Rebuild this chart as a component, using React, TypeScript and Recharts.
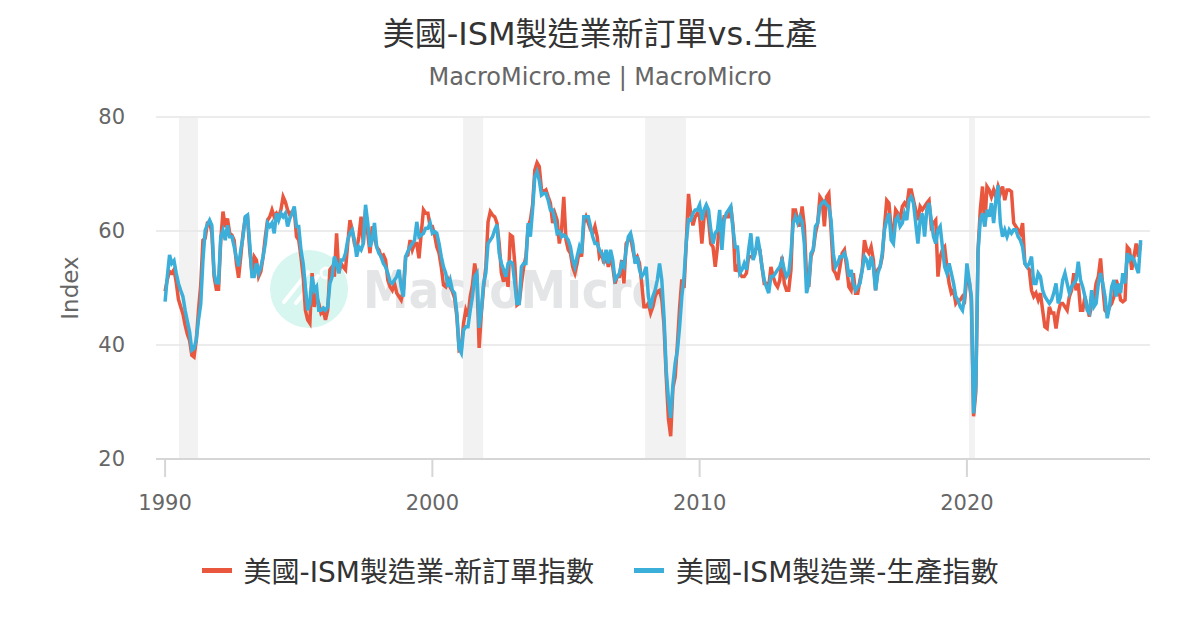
import { LineChart, Line, XAxis, YAxis, CartesianGrid, ReferenceArea } from 'recharts';

const START_YEAR = 1990;

// ISM new orders, monthly from 1990-01
const newOrders = [
    49.4, 51.5, 52.9, 52.6, 53.2, 51.0, 48.0, 46.7, 45.5, 43.5, 41.9, 40.8, // 1990
    38.2, 37.9, 40.8, 46.1, 50.6, 58.4, 58.7, 61.4, 61.6, 59.6, 52.0, 49.8, // 1991
    49.8, 58.4, 63.4, 60.7, 62.2, 59.6, 59.3, 58.4, 54.4, 51.8, 55.6, 59.6, // 1992
    62.3, 62.5, 56.7, 52.6, 55.5, 54.9, 52.0, 52.9, 55.5, 59.0, 61.9, 62.5, // 1993
    63.7, 62.5, 63.1, 62.5, 63.7, 66.0, 65.1, 63.7, 62.8, 63.4, 63.7, 59.0, // 1994
    58.4, 55.5, 52.0, 46.1, 44.4, 43.8, 52.6, 46.7, 48.5, 47.3, 45.6, 46.1, // 1995
    44.4, 46.1, 53.2, 53.7, 52.0, 59.6, 52.6, 54.3, 53.7, 53.2, 57.8, 61.9, // 1996
    60.2, 57.8, 56.7, 59.0, 62.5, 57.8, 63.7, 59.6, 56.1, 60.8, 59.0, 57.2, // 1997
    56.7, 55.5, 55.8, 54.9, 51.4, 50.2, 49.6, 50.8, 49.1, 48.5, 47.9, 49.6, // 1998
    55.5, 55.8, 58.4, 56.7, 57.8, 57.8, 55.2, 59.6, 63.7, 63.1, 63.1, 60.8, // 1999
    60.8, 59.3, 57.2, 56.1, 53.7, 50.5, 50.2, 51.4, 50.2, 49.4, 48.2, 45.0, // 2000
    39.1, 39.4, 43.8, 46.1, 45.0, 48.5, 50.5, 54.3, 52.0, 39.5, 45.6, 50.2, // 2001
    53.7, 61.6, 63.4, 62.8, 62.5, 61.4, 57.8, 52.6, 51.1, 53.2, 50.2, 59.3, // 2002
    59.0, 54.3, 47.0, 47.3, 50.8, 53.7, 55.5, 60.8, 61.9, 64.6, 70.7, 72.0, // 2003
    71.3, 67.2, 66.9, 67.2, 66.0, 64.9, 61.4, 63.1, 61.9, 57.8, 60.2, 66.0, // 2004
    58.4, 56.7, 56.1, 53.7, 52.6, 54.3, 56.7, 55.5, 61.4, 62.5, 61.4, 60.2, // 2005
    59.6, 60.8, 59.0, 55.5, 56.1, 54.3, 56.1, 53.7, 55.5, 53.7, 50.8, 52.0, // 2006
    52.0, 54.9, 50.8, 57.8, 58.4, 59.0, 56.7, 54.9, 55.5, 54.3, 50.8, 46.7, // 2007
    46.7, 47.3, 45.6, 46.7, 48.5, 49.4, 49.6, 48.0, 43.5, 34.4, 27.0, 24.0, // 2008
    32.5, 34.4, 40.0, 46.5, 51.5, 50.0, 58.0, 66.5, 63.0, 61.0, 62.5, 63.1, // 2009
    62.5, 57.8, 62.5, 63.7, 61.9, 57.8, 57.2, 53.7, 57.2, 61.9, 60.2, 62.5, // 2010
    62.5, 62.5, 64.3, 60.8, 52.9, 53.7, 52.6, 52.0, 52.0, 52.6, 55.5, 55.5, // 2011
    55.5, 56.7, 57.2, 56.7, 53.7, 50.8, 50.8, 50.2, 53.7, 52.0, 50.8, 50.2, // 2012
    51.4, 55.5, 50.8, 49.6, 49.6, 53.2, 63.7, 63.7, 61.9, 60.8, 64.3, 60.8, // 2013
    52.0, 50.2, 55.5, 56.7, 59.6, 61.4, 66.0, 65.4, 60.8, 66.0, 66.6, 60.2, // 2014
    53.2, 52.6, 51.4, 53.7, 56.1, 56.7, 53.7, 50.2, 49.6, 52.6, 49.1, 49.1, // 2015
    51.4, 53.2, 58.4, 56.7, 56.1, 57.2, 54.9, 49.6, 53.2, 53.7, 55.5, 60.8, // 2016
    65.4, 64.9, 60.2, 59.6, 63.7, 63.1, 61.9, 64.3, 64.9, 64.3, 67.2, 67.2, // 2017
    65.4, 63.7, 61.9, 64.3, 63.7, 64.3, 64.9, 65.4, 60.8, 61.4, 61.9, 52.0, // 2018
    55.5, 56.7, 57.2, 53.7, 50.8, 49.1, 49.6, 47.3, 47.9, 47.9, 48.5, 47.9, // 2019
    52.0, 51.4, 47.9, 27.5, 31.8, 56.7, 63.7, 67.8, 60.8, 67.8, 67.2, 66.0, // 2020
    67.2, 66.0, 67.8, 66.6, 67.8, 65.4, 67.2, 67.2, 66.9, 61.4, 60.8, 60.2, // 2021
    59.6, 61.4, 54.3, 53.7, 53.2, 49.6, 48.5, 49.1, 47.9, 49.1, 46.1, 43.2, // 2022
    42.9, 46.7, 45.6, 45.6, 42.9, 45.6, 47.3, 47.3, 46.7, 46.1, 48.5, 49.6, // 2023
    52.6, 49.6, 50.8, 46.1, 46.1, 48.5, 46.7, 45.0, 47.3, 47.9, 50.8, 52.0, // 2024
    55.2, 50.2, 46.1, 45.6, 46.7, 47.3, 48.5, 51.4, 50.2, 47.9, 47.6, 47.9, // 2025
    57.2, 56.7, 53.2, 55.5, 57.8, 55.5, 57.8, // 2026
];

// ISM production, monthly from 1990-01
const production = [
    47.6, 52.0, 55.8, 54.3, 54.8, 52.6, 50.8, 49.6, 48.5, 46.1, 44.2, 42.3, // 1990
    39.1, 39.4, 40.9, 44.4, 47.2, 54.9, 60.1, 61.1, 61.9, 61.0, 52.6, 50.9, // 1991
    50.9, 59.0, 60.1, 58.4, 61.0, 59.0, 59.0, 57.3, 55.3, 53.8, 56.7, 59.0, // 1992
    62.5, 62.8, 57.8, 52.0, 52.0, 54.3, 52.6, 53.7, 55.5, 57.8, 61.4, 60.8, // 1993
    61.4, 59.6, 63.1, 61.9, 63.1, 62.5, 63.1, 60.8, 62.2, 63.1, 64.3, 60.8, // 1994
    60.8, 56.7, 54.3, 50.2, 46.1, 47.3, 52.0, 49.6, 50.2, 46.1, 46.1, 46.5, // 1995
    46.1, 46.7, 50.8, 52.0, 55.5, 54.3, 52.6, 54.9, 54.9, 56.1, 58.4, 59.6, // 1996
    60.2, 58.4, 55.5, 57.2, 56.7, 57.8, 64.6, 61.4, 57.2, 58.4, 61.4, 57.2, // 1997
    56.1, 55.5, 54.3, 53.7, 52.6, 51.1, 50.8, 51.4, 52.0, 53.2, 50.2, 48.5, // 1998
    55.5, 56.4, 57.2, 57.8, 58.4, 61.6, 59.0, 59.3, 59.6, 60.5, 60.5, 61.4, // 1999
    59.6, 59.9, 59.6, 57.8, 55.5, 53.7, 52.6, 50.2, 51.4, 49.6, 49.1, 45.6, // 2000
    39.4, 38.6, 42.6, 43.2, 43.2, 46.1, 48.5, 52.0, 52.6, 43.0, 46.1, 50.8, // 2001
    52.6, 57.8, 58.4, 59.0, 60.2, 61.1, 56.1, 54.3, 53.2, 52.0, 54.3, 54.6, // 2002
    54.3, 50.8, 47.3, 47.3, 53.7, 54.3, 54.3, 61.4, 59.0, 63.7, 69.5, 70.4, // 2003
    68.9, 66.3, 66.6, 66.6, 65.4, 63.7, 63.7, 61.9, 59.6, 59.9, 59.0, 59.3, // 2004
    59.0, 58.4, 57.2, 54.9, 53.7, 55.5, 57.2, 56.1, 62.5, 62.5, 62.5, 60.8, // 2005
    59.0, 57.8, 57.8, 56.7, 56.1, 54.9, 56.7, 54.3, 56.7, 54.9, 51.4, 52.0, // 2006
    52.6, 54.3, 53.7, 56.7, 59.0, 59.6, 57.8, 54.3, 55.5, 53.2, 52.0, 52.6, // 2007
    53.7, 48.5, 46.4, 48.5, 49.6, 51.4, 54.3, 51.4, 45.0, 35.5, 30.4, 27.2, // 2008
    33.0, 36.8, 39.0, 43.2, 48.5, 52.0, 58.0, 62.0, 61.9, 63.1, 63.7, 63.7, // 2009
    64.6, 61.9, 63.7, 64.6, 63.7, 60.2, 57.8, 59.6, 60.2, 63.7, 56.7, 61.9, // 2010
    63.1, 63.7, 64.3, 60.2, 57.2, 57.2, 52.6, 53.2, 54.3, 53.2, 56.7, 59.6, // 2011
    54.9, 56.1, 59.0, 56.7, 53.7, 51.4, 50.2, 49.1, 52.0, 52.0, 52.6, 53.2, // 2012
    53.7, 54.9, 53.2, 52.0, 52.6, 56.1, 61.4, 62.5, 61.4, 62.5, 61.6, 57.8, // 2013
    49.1, 50.8, 56.1, 56.7, 60.8, 61.4, 64.3, 64.9, 65.2, 64.6, 64.3, 61.9, // 2014
    56.1, 53.7, 54.3, 55.5, 55.5, 56.1, 54.9, 52.0, 53.2, 50.8, 49.6, 50.2, // 2015
    50.8, 53.2, 55.5, 54.9, 53.2, 55.5, 53.7, 49.6, 52.6, 53.7, 56.1, 60.2, // 2016
    61.9, 63.1, 58.4, 57.8, 61.9, 62.5, 60.8, 61.4, 63.1, 61.9, 65.4, 66.0, // 2017
    64.9, 61.4, 57.8, 61.9, 63.1, 59.0, 63.7, 64.9, 61.9, 59.0, 57.8, 60.2, // 2018
    60.8, 57.2, 53.7, 52.6, 54.3, 52.6, 50.8, 48.5, 47.9, 46.7, 46.1, 48.5, // 2019
    54.3, 51.4, 48.5, 28.0, 33.0, 56.4, 61.9, 63.1, 60.8, 63.7, 62.5, 64.9, // 2020
    61.4, 65.4, 68.0, 61.4, 59.0, 60.2, 59.0, 60.2, 59.6, 60.2, 60.2, 59.0, // 2021
    58.4, 57.2, 54.3, 53.7, 54.3, 55.5, 50.8, 50.8, 52.6, 52.0, 49.6, 48.5, // 2022
    47.9, 47.3, 47.9, 49.1, 50.8, 47.3, 48.5, 51.4, 52.6, 50.8, 49.1, 50.2, // 2023
    50.8, 51.4, 54.6, 51.4, 50.2, 48.5, 46.1, 45.6, 49.6, 46.7, 47.3, 50.8, // 2024
    52.6, 50.8, 48.5, 44.7, 46.7, 50.2, 51.4, 48.5, 50.8, 49.1, 52.6, 50.8, // 2025
    56.1, 54.9, 55.5, 54.9, 53.7, 52.6, 58.4, // 2026
];

// recession periods (fractional years)
const recessionStarts = [1990.52, 2001.15, 2007.96, 2020.08];
const recessionEnds = [1991.23, 2001.9, 2009.49, 2020.3];

const xTicks = [1990, 2000, 2010, 2020];
const yTicks = [20, 40, 60, 80];

const RED = '#e9573f';
const BLUE = '#3bafda';
const FONT = '"DejaVu Sans", "Noto Sans CJK TC", sans-serif';

const data = newOrders.map((v, i) => ({
    t: START_YEAR + i / 12,
    newOrders: v,
    production: production[i],
}));

function Watermark() {
    return (
        <svg width={1200} height={630} style={{ position: 'absolute', left: 0, top: 0 }}>
            <circle cx={309} cy={289} r={39} fill="#d6f6ef" />
            <line x1={284} y1={302} x2={308} y2={272} stroke="#fff" strokeWidth={4} strokeLinecap="round" />
            <line x1={296} y1={303} x2={318} y2={276} stroke="#fff" strokeWidth={4} strokeLinecap="round" />
            <circle cx={326} cy={273} r={5} fill="none" stroke="#fff" strokeWidth={3} />
            <text x={363} y={308} fontSize={52} fontWeight="bold" fill="#e4e5e7" textLength={300}
                lengthAdjust="spacingAndGlyphs" style={{ fontFamily: FONT }}>
                MacroMicro
            </text>
        </svg>
    );
}

export default function App() {
    return (
        <div style={{ position: 'absolute', left: 0, top: 0, width: 1200, height: 630, background: '#fff', fontFamily: FONT, overflow: 'hidden' }}>
            <div style={{ position: 'absolute', top: 8, width: 1200, textAlign: 'center', fontSize: 32, color: '#333' }}>
                美國-ISM製造業新訂單vs.生產
            </div>
            <div style={{ position: 'absolute', top: 63, width: 1200, textAlign: 'center', fontSize: 24, color: '#666' }}>
                MacroMicro.me | MacroMicro
            </div>
            <Watermark />
            <div style={{ position: 'absolute', left: 0, top: 0 }}>
                <LineChart width={1200} height={630} data={data}
                    margin={{ top: 117, right: 50, bottom: 141, left: 96 }}>
                    <CartesianGrid vertical={false} stroke="#e6e6e6" strokeWidth={1.5} />
                    {recessionStarts.map((s, i) => (
                        <ReferenceArea key={`rec-${i}`} x1={s} x2={recessionEnds[i]} y1={20} y2={80}
                            fill="#e9e9e9" fillOpacity={0.6} stroke="none" ifOverflow="hidden" />
                    ))}
                    <XAxis type="number" dataKey="t" domain={[1989.66, 2026.85]} ticks={xTicks}
                        allowDataOverflow height={30} tickSize={18} tickMargin={18}
                        stroke="#d6d6d6" strokeWidth={2}
                        tick={{ fill: '#666', fontSize: 21 }} />
                    <YAxis domain={[20, 80]} ticks={yTicks} width={60} axisLine={false} tickLine={false}
                        tickSize={6} tickMargin={25} tick={{ fill: '#666', fontSize: 21 }} />
                    <Line type="linear" dataKey="newOrders" stroke={RED} strokeWidth={3.5} dot={false}
                        isAnimationActive={false} />
                    <Line type="linear" dataKey="production" stroke={BLUE} strokeWidth={3.5} dot={false}
                        isAnimationActive={false} />
                </LineChart>
            </div>
            <div style={{ position: 'absolute', left: 70, top: 288, transform: 'translate(-50%, -50%) rotate(-90deg)', fontSize: 23, color: '#666' }}>
                Index
            </div>
            <div style={{ position: 'absolute', top: 550, left: 0, width: 1200, display: 'flex', justifyContent: 'center', fontSize: 28, color: '#333' }}>
                <div style={{ display: 'flex', alignItems: 'center', marginRight: 40 }}>
                    <span style={{ display: 'inline-block', width: 30, height: 5, background: RED, marginRight: 12 }} />
                    美國-ISM製造業-新訂單指數
                </div>
                <div style={{ display: 'flex', alignItems: 'center' }}>
                    <span style={{ display: 'inline-block', width: 30, height: 5, background: BLUE, marginRight: 12 }} />
                    美國-ISM製造業-生產指數
                </div>
            </div>
        </div>
    );
}
